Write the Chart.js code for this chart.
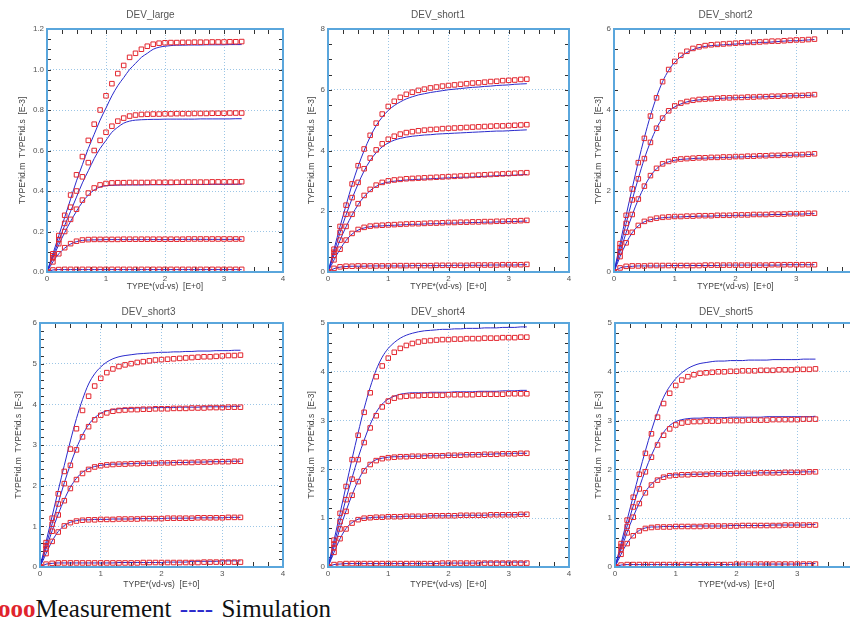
<!DOCTYPE html>
<html>
<head>
<meta charset="utf-8">
<script src="https://cdn.jsdelivr.net/npm/chart.js@4.4.1/dist/chart.umd.min.js"></script>
<style>
  html, body { margin: 0; padding: 0; background: #fff; }
  body { width: 850px; height: 622px; overflow: hidden; position: relative; }
  canvas { position: absolute; }
  #legend { position: absolute; left: -2px; top: 596px; font-family: 'Liberation Serif', serif; font-size: 25px; line-height: 25px; white-space: nowrap; color: #111; }
  #legend .m { color: #e0242c; font-weight: bold; }
  #legend .s { color: #2a2acc; margin-left: 2px; margin-right: 2px; }
</style>
</head>
<body>
<div id="legend"><span class="m">ooo</span>Measurement <span class="s">----</span> Simulation</div>
<script>
// vd sweep (V), same for every curve
const vd = [0,0.1,0.2,0.3,0.4,0.5,0.6,0.7,0.8,0.9,1.0,1.1,1.2,1.3,1.4,1.5,1.6,1.7,1.8,1.9,2.0,2.1,2.2,2.3,2.4,2.5,2.6,2.7,2.8,2.9,3.0,3.1,3.2,3.3];

// ---- DEV_large  (id in E-3)
const large_m1 = [0,0.09,0.18,0.28,0.38,0.48,0.57,0.65,0.73,0.80,0.87,0.93,0.98,1.02,1.06,1.08,1.10,1.115,1.125,1.13,1.132,1.133,1.133,1.134,1.134,1.135,1.135,1.135,1.136,1.136,1.136,1.137,1.137,1.138];
const large_s1 = [0,0.09,0.18,0.27,0.36,0.45,0.53,0.61,0.68,0.75,0.81,0.87,0.92,0.96,1.00,1.03,1.06,1.08,1.10,1.11,1.115,1.118,1.12,1.12,1.121,1.121,1.121,1.122,1.122,1.122,1.122,1.123,1.123,1.123];
const large_m2 = [0,0.08,0.16,0.24,0.32,0.40,0.47,0.54,0.60,0.65,0.69,0.72,0.745,0.76,0.77,0.775,0.778,0.779,0.78,0.78,0.781,0.781,0.782,0.782,0.782,0.783,0.783,0.783,0.784,0.784,0.784,0.785,0.785,0.785];
const large_s2 = [0,0.08,0.155,0.23,0.30,0.37,0.44,0.50,0.56,0.61,0.65,0.69,0.715,0.735,0.745,0.75,0.752,0.753,0.754,0.754,0.755,0.755,0.755,0.755,0.755,0.755,0.756,0.756,0.756,0.756,0.756,0.756,0.757,0.757];
const large_m3 = [0,0.07,0.14,0.2,0.26,0.31,0.355,0.39,0.415,0.43,0.437,0.44,0.441,0.441,0.442,0.442,0.442,0.442,0.443,0.443,0.443,0.443,0.443,0.444,0.444,0.444,0.444,0.444,0.445,0.445,0.445,0.445,0.445,0.446];
const large_s3 = [0,0.07,0.135,0.195,0.25,0.3,0.345,0.38,0.405,0.42,0.426,0.428,0.429,0.43,0.43,0.43,0.43,0.431,0.431,0.431,0.431,0.431,0.432,0.432,0.432,0.432,0.432,0.432,0.433,0.433,0.433,0.433,0.433,0.434];
const large_m4 = [0,0.05,0.09,0.12,0.14,0.152,0.158,0.16,0.161,0.161,0.161,0.161,0.161,0.162,0.162,0.162,0.162,0.162,0.162,0.162,0.162,0.162,0.162,0.162,0.163,0.163,0.163,0.163,0.163,0.163,0.163,0.163,0.163,0.163];
const large_s4 = [0,0.05,0.09,0.118,0.138,0.15,0.156,0.158,0.159,0.159,0.16,0.16,0.16,0.16,0.16,0.16,0.16,0.16,0.16,0.16,0.16,0.16,0.16,0.161,0.161,0.161,0.161,0.161,0.161,0.161,0.161,0.161,0.161,0.161];
const large_m5 = [0,0.01,0.012,0.013,0.013,0.013,0.013,0.013,0.013,0.013,0.013,0.013,0.013,0.013,0.013,0.013,0.013,0.013,0.013,0.013,0.013,0.013,0.013,0.013,0.013,0.013,0.013,0.013,0.013,0.013,0.013,0.013,0.013,0.013];
const large_s5 = [0,0.01,0.012,0.012,0.012,0.012,0.012,0.012,0.012,0.012,0.012,0.012,0.012,0.012,0.012,0.012,0.012,0.012,0.012,0.012,0.012,0.012,0.012,0.012,0.012,0.012,0.012,0.012,0.012,0.012,0.012,0.012,0.012,0.012];

// ---- DEV_short1
const short1_m1 = [0,0.75,1.5,2.2,2.9,3.5,4.05,4.5,4.9,5.2,5.45,5.62,5.75,5.85,5.92,5.98,6.02,6.06,6.09,6.12,6.14,6.16,6.18,6.2,6.22,6.23,6.25,6.27,6.28,6.3,6.31,6.32,6.34,6.35];
const short1_s1 = [0,0.75,1.5,2.2,2.88,3.48,4.0,4.45,4.82,5.1,5.32,5.48,5.6,5.7,5.77,5.83,5.87,5.91,5.94,5.97,6.0,6.02,6.04,6.06,6.08,6.09,6.11,6.12,6.14,6.15,6.16,6.18,6.19,6.2];
const short1_m2 = [0,0.65,1.3,1.9,2.45,2.95,3.4,3.75,4.02,4.22,4.37,4.47,4.54,4.59,4.62,4.65,4.67,4.69,4.7,4.72,4.73,4.74,4.75,4.76,4.77,4.78,4.79,4.8,4.81,4.81,4.82,4.83,4.84,4.85];
const short1_s2 = [0,0.65,1.3,1.88,2.42,2.9,3.33,3.67,3.93,4.12,4.25,4.34,4.4,4.44,4.47,4.49,4.51,4.52,4.54,4.55,4.56,4.57,4.58,4.59,4.6,4.61,4.62,4.63,4.64,4.64,4.65,4.66,4.67,4.68];
const short1_m3 = [0,0.55,1.05,1.5,1.9,2.25,2.52,2.72,2.86,2.95,3.0,3.03,3.05,3.07,3.08,3.09,3.1,3.11,3.12,3.13,3.14,3.15,3.16,3.17,3.18,3.19,3.2,3.21,3.22,3.23,3.24,3.25,3.26,3.27];
const short1_s3 = [0,0.55,1.05,1.49,1.88,2.22,2.48,2.68,2.82,2.91,2.96,2.99,3.01,3.03,3.04,3.05,3.06,3.07,3.08,3.09,3.1,3.11,3.12,3.12,3.13,3.14,3.15,3.16,3.17,3.18,3.18,3.19,3.2,3.21];
const short1_m4 = [0,0.4,0.75,1.05,1.27,1.4,1.47,1.51,1.53,1.54,1.55,1.56,1.57,1.58,1.59,1.59,1.6,1.61,1.61,1.62,1.63,1.63,1.64,1.64,1.65,1.65,1.66,1.66,1.67,1.67,1.68,1.68,1.69,1.7];
const short1_s4 = [0,0.4,0.75,1.04,1.25,1.38,1.45,1.49,1.51,1.52,1.53,1.54,1.55,1.56,1.57,1.57,1.58,1.59,1.59,1.6,1.61,1.61,1.62,1.62,1.63,1.63,1.64,1.64,1.65,1.65,1.66,1.66,1.67,1.68];
const short1_m5 = [0,0.12,0.17,0.19,0.19,0.2,0.2,0.2,0.2,0.2,0.2,0.21,0.21,0.21,0.21,0.21,0.21,0.21,0.22,0.22,0.22,0.22,0.22,0.22,0.23,0.23,0.23,0.23,0.23,0.24,0.24,0.24,0.24,0.25];
const short1_s5 = [0,0.11,0.16,0.18,0.19,0.19,0.19,0.2,0.2,0.2,0.2,0.2,0.2,0.2,0.21,0.21,0.21,0.21,0.21,0.21,0.21,0.22,0.22,0.22,0.22,0.22,0.22,0.23,0.23,0.23,0.23,0.23,0.24,0.24];

// ---- DEV_short2
const short2_m1 = [0,0.7,1.4,2.05,2.7,3.3,3.85,4.3,4.7,5.0,5.2,5.35,5.45,5.52,5.56,5.59,5.61,5.62,5.63,5.64,5.65,5.66,5.67,5.67,5.68,5.69,5.7,5.7,5.71,5.72,5.73,5.73,5.74,5.75];
const short2_s1 = [0,0.7,1.4,2.07,2.72,3.32,3.86,4.32,4.7,4.98,5.18,5.32,5.42,5.49,5.54,5.57,5.59,5.6,5.61,5.62,5.63,5.64,5.65,5.66,5.67,5.67,5.68,5.69,5.7,5.71,5.71,5.72,5.73,5.74];
const short2_m2 = [0,0.6,1.2,1.78,2.3,2.8,3.2,3.55,3.8,3.98,4.1,4.17,4.21,4.24,4.26,4.27,4.28,4.29,4.3,4.3,4.31,4.31,4.32,4.32,4.33,4.33,4.34,4.34,4.35,4.35,4.36,4.36,4.37,4.38];
const short2_s2 = [0,0.6,1.2,1.78,2.31,2.8,3.21,3.55,3.8,3.97,4.08,4.15,4.2,4.23,4.25,4.26,4.27,4.28,4.29,4.3,4.3,4.31,4.31,4.32,4.32,4.33,4.33,4.34,4.34,4.35,4.35,4.36,4.36,4.37];
const short2_m3 = [0,0.5,0.98,1.42,1.8,2.12,2.38,2.56,2.67,2.73,2.77,2.79,2.8,2.81,2.82,2.82,2.83,2.83,2.84,2.84,2.85,2.85,2.86,2.86,2.87,2.87,2.88,2.88,2.89,2.89,2.9,2.9,2.91,2.92];
const short2_s3 = [0,0.5,0.97,1.41,1.79,2.11,2.37,2.55,2.66,2.72,2.76,2.78,2.79,2.8,2.81,2.81,2.82,2.82,2.83,2.83,2.84,2.84,2.85,2.85,2.86,2.86,2.87,2.87,2.88,2.88,2.89,2.89,2.9,2.91];
const short2_m4 = [0,0.38,0.72,0.98,1.15,1.25,1.3,1.33,1.35,1.36,1.37,1.37,1.38,1.38,1.39,1.39,1.39,1.4,1.4,1.4,1.41,1.41,1.41,1.42,1.42,1.42,1.43,1.43,1.43,1.44,1.44,1.44,1.45,1.45];
const short2_s4 = [0,0.38,0.71,0.97,1.14,1.24,1.29,1.32,1.34,1.35,1.36,1.36,1.37,1.37,1.38,1.38,1.38,1.39,1.39,1.39,1.4,1.4,1.4,1.41,1.41,1.41,1.42,1.42,1.42,1.43,1.43,1.43,1.44,1.44];
const short2_m5 = [0,0.1,0.14,0.15,0.15,0.15,0.16,0.16,0.16,0.16,0.16,0.16,0.16,0.16,0.16,0.17,0.17,0.17,0.17,0.17,0.17,0.17,0.17,0.17,0.17,0.17,0.18,0.18,0.18,0.18,0.18,0.18,0.18,0.18];
const short2_s5 = [0,0.1,0.13,0.14,0.15,0.15,0.15,0.15,0.15,0.16,0.16,0.16,0.16,0.16,0.16,0.16,0.16,0.16,0.17,0.17,0.17,0.17,0.17,0.17,0.17,0.17,0.17,0.17,0.18,0.18,0.18,0.18,0.18,0.18];

// ---- DEV_short3
const short3_m1 = [0,0.6,1.2,1.8,2.35,2.9,3.4,3.85,4.2,4.45,4.64,4.78,4.87,4.93,4.97,5.0,5.03,5.05,5.07,5.09,5.1,5.11,5.12,5.13,5.14,5.15,5.16,5.17,5.17,5.18,5.19,5.2,5.2,5.21];
const short3_s1 = [0,0.62,1.25,1.88,2.5,3.1,3.65,4.12,4.5,4.75,4.92,5.04,5.12,5.17,5.2,5.22,5.24,5.25,5.26,5.27,5.28,5.28,5.29,5.29,5.3,5.3,5.31,5.31,5.31,5.32,5.32,5.32,5.33,5.33];
const short3_m2 = [0,0.52,1.05,1.55,2.05,2.5,2.88,3.2,3.45,3.62,3.73,3.79,3.83,3.85,3.86,3.87,3.87,3.88,3.88,3.89,3.89,3.89,3.9,3.9,3.9,3.91,3.91,3.91,3.92,3.92,3.92,3.93,3.93,3.93];
const short3_s2 = [0,0.53,1.06,1.57,2.07,2.52,2.92,3.25,3.5,3.67,3.78,3.84,3.87,3.89,3.9,3.9,3.91,3.91,3.91,3.92,3.92,3.92,3.92,3.93,3.93,3.93,3.93,3.94,3.94,3.94,3.94,3.94,3.95,3.95];
const short3_m3 = [0,0.45,0.88,1.28,1.63,1.93,2.15,2.3,2.4,2.46,2.49,2.51,2.52,2.53,2.53,2.54,2.54,2.55,2.55,2.55,2.56,2.56,2.56,2.57,2.57,2.57,2.58,2.58,2.58,2.59,2.59,2.59,2.6,2.6];
const short3_s3 = [0,0.45,0.89,1.3,1.66,1.96,2.18,2.33,2.42,2.47,2.5,2.52,2.53,2.53,2.54,2.54,2.55,2.55,2.55,2.56,2.56,2.56,2.57,2.57,2.57,2.58,2.58,2.58,2.59,2.59,2.59,2.6,2.6,2.6];
const short3_m4 = [0,0.33,0.63,0.86,1.01,1.09,1.13,1.15,1.16,1.16,1.17,1.17,1.17,1.18,1.18,1.18,1.18,1.19,1.19,1.19,1.19,1.2,1.2,1.2,1.2,1.2,1.21,1.21,1.21,1.21,1.21,1.22,1.22,1.22];
const short3_s4 = [0,0.33,0.64,0.87,1.02,1.1,1.14,1.16,1.16,1.17,1.17,1.17,1.18,1.18,1.18,1.18,1.19,1.19,1.19,1.19,1.19,1.2,1.2,1.2,1.2,1.2,1.21,1.21,1.21,1.21,1.21,1.22,1.22,1.22];
const short3_m5 = [0,0.07,0.09,0.1,0.1,0.1,0.1,0.1,0.1,0.1,0.1,0.1,0.1,0.1,0.1,0.1,0.1,0.11,0.11,0.11,0.11,0.11,0.11,0.11,0.11,0.11,0.11,0.12,0.12,0.12,0.12,0.12,0.12,0.12];
const short3_s5 = [0,0.07,0.09,0.1,0.1,0.1,0.1,0.1,0.1,0.1,0.1,0.1,0.1,0.11,0.11,0.11,0.11,0.11,0.11,0.11,0.11,0.12,0.12,0.12,0.12,0.14,0.14,0.14,0.14,0.14,0.15,0.15,0.15,0.15];

// ---- DEV_short4
const short4_m1 = [0,0.55,1.1,1.65,2.2,2.7,3.17,3.57,3.9,4.12,4.28,4.4,4.48,4.54,4.58,4.61,4.63,4.64,4.65,4.66,4.66,4.67,4.67,4.68,4.68,4.68,4.69,4.69,4.69,4.7,4.7,4.7,4.71,4.71];
const short4_s1 = [0,0.55,1.1,1.66,2.22,2.75,3.25,3.68,4.04,4.3,4.48,4.6,4.69,4.75,4.79,4.82,4.84,4.85,4.86,4.87,4.87,4.88,4.88,4.89,4.89,4.89,4.9,4.9,4.9,4.91,4.91,4.91,4.92,4.92];
const short4_m2 = [0,0.47,0.93,1.38,1.8,2.2,2.55,2.85,3.1,3.28,3.4,3.46,3.49,3.5,3.51,3.51,3.52,3.52,3.52,3.52,3.53,3.53,3.53,3.53,3.53,3.54,3.54,3.54,3.54,3.54,3.55,3.55,3.55,3.55];
const short4_s2 = [0,0.47,0.94,1.4,1.83,2.24,2.6,2.92,3.17,3.34,3.44,3.5,3.54,3.56,3.57,3.57,3.57,3.58,3.58,3.58,3.58,3.59,3.59,3.59,3.59,3.6,3.6,3.6,3.6,3.61,3.61,3.61,3.62,3.62];
const short4_m3 = [0,0.4,0.78,1.14,1.47,1.75,1.97,2.1,2.18,2.22,2.24,2.25,2.26,2.26,2.27,2.27,2.27,2.28,2.28,2.28,2.29,2.29,2.29,2.3,2.3,2.3,2.31,2.31,2.31,2.32,2.32,2.32,2.33,2.33];
const short4_s3 = [0,0.4,0.79,1.15,1.48,1.77,1.99,2.12,2.2,2.23,2.25,2.26,2.26,2.27,2.27,2.27,2.28,2.28,2.28,2.29,2.29,2.29,2.3,2.3,2.3,2.31,2.31,2.31,2.32,2.32,2.32,2.33,2.33,2.33];
const short4_m4 = [0,0.3,0.58,0.78,0.9,0.97,1.0,1.01,1.02,1.02,1.03,1.03,1.03,1.04,1.04,1.04,1.04,1.05,1.05,1.05,1.05,1.05,1.06,1.06,1.06,1.06,1.06,1.07,1.07,1.07,1.07,1.07,1.08,1.08];
const short4_s4 = [0,0.3,0.58,0.79,0.91,0.98,1.0,1.01,1.02,1.02,1.03,1.03,1.03,1.04,1.04,1.04,1.04,1.05,1.05,1.05,1.05,1.05,1.06,1.06,1.06,1.06,1.06,1.07,1.07,1.07,1.07,1.07,1.08,1.08];
const short4_m5 = [0,0.05,0.06,0.07,0.07,0.07,0.07,0.07,0.07,0.07,0.07,0.07,0.07,0.07,0.07,0.07,0.07,0.07,0.07,0.08,0.08,0.08,0.08,0.08,0.08,0.08,0.08,0.08,0.08,0.08,0.08,0.08,0.08,0.08];
const short4_s5 = [0,0.05,0.06,0.07,0.07,0.07,0.07,0.07,0.07,0.07,0.07,0.07,0.07,0.07,0.07,0.07,0.07,0.07,0.07,0.08,0.08,0.08,0.08,0.08,0.08,0.08,0.1,0.1,0.1,0.1,0.1,0.1,0.1,0.1];

// ---- DEV_short5
const short5_m1 = [0,0.48,0.96,1.43,1.9,2.33,2.73,3.07,3.35,3.56,3.72,3.83,3.9,3.94,3.97,3.98,3.99,4.0,4.0,4.01,4.01,4.02,4.02,4.02,4.03,4.03,4.03,4.04,4.04,4.04,4.05,4.05,4.05,4.06];
const short5_s1 = [0,0.48,0.97,1.45,1.93,2.38,2.8,3.17,3.48,3.7,3.86,3.98,4.07,4.13,4.17,4.19,4.21,4.22,4.22,4.23,4.23,4.23,4.24,4.24,4.24,4.24,4.25,4.25,4.25,4.25,4.25,4.26,4.26,4.26];
const short5_m2 = [0,0.42,0.83,1.23,1.6,1.95,2.25,2.5,2.7,2.83,2.91,2.95,2.97,2.98,2.98,2.99,2.99,2.99,3.0,3.0,3.0,3.0,3.01,3.01,3.01,3.01,3.02,3.02,3.02,3.02,3.02,3.03,3.03,3.03];
const short5_s2 = [0,0.42,0.84,1.25,1.63,1.98,2.29,2.55,2.76,2.9,2.98,3.02,3.04,3.05,3.05,3.06,3.06,3.06,3.06,3.07,3.07,3.07,3.07,3.07,3.07,3.08,3.08,3.08,3.08,3.08,3.08,3.08,3.08,3.09];
const short5_m3 = [0,0.36,0.7,1.02,1.3,1.52,1.68,1.78,1.84,1.87,1.88,1.89,1.89,1.9,1.9,1.9,1.91,1.91,1.91,1.91,1.92,1.92,1.92,1.92,1.93,1.93,1.93,1.93,1.94,1.94,1.94,1.94,1.95,1.95];
const short5_s3 = [0,0.36,0.71,1.03,1.31,1.54,1.7,1.8,1.85,1.88,1.89,1.89,1.9,1.9,1.9,1.91,1.91,1.91,1.91,1.92,1.92,1.92,1.92,1.93,1.93,1.93,1.93,1.94,1.94,1.94,1.94,1.95,1.95,1.95];
const short5_m4 = [0,0.26,0.48,0.64,0.74,0.79,0.81,0.82,0.82,0.82,0.83,0.83,0.83,0.83,0.83,0.84,0.84,0.84,0.84,0.84,0.84,0.85,0.85,0.85,0.85,0.85,0.85,0.85,0.86,0.86,0.86,0.86,0.86,0.86];
const short5_s4 = [0,0.26,0.49,0.65,0.75,0.8,0.82,0.82,0.83,0.83,0.83,0.83,0.83,0.84,0.84,0.84,0.84,0.84,0.84,0.85,0.85,0.85,0.85,0.85,0.85,0.85,0.86,0.86,0.86,0.86,0.86,0.86,0.87,0.87];
const short5_m5 = [0,0.04,0.05,0.05,0.05,0.05,0.05,0.05,0.05,0.05,0.05,0.05,0.05,0.05,0.05,0.05,0.05,0.05,0.05,0.05,0.06,0.06,0.06,0.06,0.06,0.06,0.06,0.06,0.06,0.06,0.06,0.06,0.06,0.06];
const short5_s5 = [0,0.04,0.05,0.05,0.05,0.05,0.05,0.05,0.05,0.05,0.05,0.05,0.05,0.05,0.05,0.05,0.05,0.05,0.05,0.05,0.06,0.06,0.06,0.06,0.06,0.06,0.06,0.06,0.06,0.06,0.06,0.07,0.07,0.07];

// panel setup: plot = [left, top, right, bottom] in page px
const panels = [
  { title: 'DEV_large',  meas: [large_m1, large_m2, large_m3, large_m4, large_m5],   sim: [large_s1, large_s2, large_s3, large_s4, large_s5],
    ymax: 1.2, minor: 0.05, major: 0.2, dec: 1, plot: [47, 29, 283, 272], yTitleX: 23, titleY: 15, xH: 20 },
  { title: 'DEV_short1', meas: [short1_m1, short1_m2, short1_m3, short1_m4, short1_m5], sim: [short1_s1, short1_s2, short1_s3, short1_s4, short1_s5],
    ymax: 8, minor: 0.5, major: 2, dec: 0, plot: [328, 29, 569, 272], yTitleX: 312, titleY: 15, xH: 20 },
  { title: 'DEV_short2', meas: [short2_m1, short2_m2, short2_m3, short2_m4, short2_m5], sim: [short2_s1, short2_s2, short2_s3, short2_s4, short2_s5],
    ymax: 6, minor: 0.5, major: 2, dec: 0, plot: [614, 29, 857, 272], yTitleX: 599, titleY: 15, xH: 20 },
  { title: 'DEV_short3', meas: [short3_m1, short3_m2, short3_m3, short3_m4, short3_m5], sim: [short3_s1, short3_s2, short3_s3, short3_s4, short3_s5],
    ymax: 6, minor: 0.2, major: 1, dec: 0, plot: [40, 323, 283, 567], yTitleX: 19, titleY: 312, xH: 23 },
  { title: 'DEV_short4', meas: [short4_m1, short4_m2, short4_m3, short4_m4, short4_m5], sim: [short4_s1, short4_s2, short4_s3, short4_s4, short4_s5],
    ymax: 5, minor: 0.2, major: 1, dec: 0, plot: [328, 323, 569, 567], yTitleX: 312, titleY: 312, xH: 23 },
  { title: 'DEV_short5', meas: [short5_m1, short5_m2, short5_m3, short5_m4, short5_m5], sim: [short5_s1, short5_s2, short5_s3, short5_s4, short5_s5],
    ymax: 5, minor: 0.2, major: 1, dec: 0, plot: [615, 323, 858, 567], yTitleX: 599, titleY: 312, xH: 23 },
];

const RED = '#e3262e';
const BLUE = '#2a2acc';
const GRID = '#9cc6e6';
const FRAME = '#5aa6dc';

const isMult = (v, step) => Math.abs(v / step - Math.round(v / step)) < 1e-6;

// inward tick marks + light blue frame, like the original tool
const frameTicks = {
  id: 'frameTicks',
  beforeDatasetsDraw(chart) {
    const { ctx, chartArea: a, scales: { x, y } } = chart;
    ctx.save();
    ctx.strokeStyle = '#333';
    ctx.lineWidth = 1;
    ctx.beginPath();
    x.ticks.forEach(t => {
      const px = Math.round(x.getPixelForValue(t.value)) + 0.5;
      ctx.moveTo(px, a.top); ctx.lineTo(px, a.top + 5);
      ctx.moveTo(px, a.bottom); ctx.lineTo(px, a.bottom - 5);
    });
    y.ticks.forEach(t => {
      const py = Math.round(y.getPixelForValue(t.value)) + 0.5;
      ctx.moveTo(a.left, py); ctx.lineTo(a.left + 4, py);
      ctx.moveTo(a.right, py); ctx.lineTo(a.right - 4, py);
    });
    ctx.stroke();
    ctx.restore();
  },
  afterDatasetsDraw(chart) {
    const { ctx, chartArea: a } = chart;
    ctx.save();
    ctx.strokeStyle = FRAME;
    ctx.lineWidth = 2;
    ctx.strokeRect(a.left, a.top, a.right - a.left, a.bottom - a.top);
    ctx.restore();
  }
};

panels.forEach(p => {
  const [pl, pt, pr, pb] = p.plot;
  const yW = p.yTitleX - 5 > 0 ? pl - (p.yTitleX - 5) : pl;
  const left = pl - yW;
  const top = p.titleY - 8;
  const titleH = pt - top;
  const W = yW + (pr - pl) + 8;
  const H = titleH + (pb - pt) + p.xH;

  const cv = document.createElement('canvas');
  cv.width = W; cv.height = H;
  cv.style.left = left + 'px'; cv.style.top = top + 'px';
  cv.style.width = W + 'px'; cv.style.height = H + 'px';
  document.body.appendChild(cv);

  const datasets = [];
  p.meas.forEach(m => datasets.push({
    data: vd.map((v, i) => ({ x: v, y: m[i] })),
    showLine: false, pointStyle: 'rect', pointRadius: 3.2,
    pointBorderColor: RED, pointBackgroundColor: 'rgba(0,0,0,0)', pointBorderWidth: 1
  }));
  p.sim.forEach(s => datasets.push({
    data: vd.map((v, i) => ({ x: v, y: s[i] })),
    showLine: true, borderColor: BLUE, borderWidth: 1, pointRadius: 0,
    cubicInterpolationMode: 'monotone'
  }));

  new Chart(cv.getContext('2d'), {
    type: 'scatter',
    data: { datasets },
    options: {
      responsive: false, animation: false, devicePixelRatio: 1,
      layout: { padding: { left: 0, right: 8, top: 0, bottom: 0 } },
      plugins: {
        legend: { display: false }, tooltip: { enabled: false },
        title: { display: true, text: p.title, color: '#555',
          font: { family: 'Liberation Sans', size: 10, weight: 'normal' },
          padding: { top: 2, bottom: titleH - 14 } }
      },
      scales: {
        x: {
          type: 'linear', min: 0, max: 4,
          afterFit: s => { s.height = p.xH; },
          border: { display: false, dash: [1, 2] },
          grid: { drawTicks: false, lineWidth: 1,
            color: c => (c.tick && isMult(c.tick.value, 1) && c.tick.value > 0 && c.tick.value < 4) ? GRID : 'rgba(0,0,0,0)' },
          ticks: { stepSize: 0.25, autoSkip: false, maxRotation: 0, padding: 2, color: '#555',
            font: { family: 'Liberation Sans', size: 8 },
            callback: v => isMult(v, 1) ? String(Math.round(v)) : '' },
          title: { display: true, text: 'TYPE*(vd-vs)  [E+0]', color: '#444',
            font: { family: 'Liberation Sans', size: 8.5 }, padding: { top: 0, bottom: 0 } }
        },
        y: {
          type: 'linear', min: 0, max: p.ymax,
          afterFit: s => { s.width = yW; },
          border: { display: false, dash: [1, 2] },
          grid: { drawTicks: false, lineWidth: 1,
            color: c => (c.tick && isMult(c.tick.value, p.major) && c.tick.value > 0 && c.tick.value < p.ymax - 1e-6) ? GRID : 'rgba(0,0,0,0)' },
          ticks: { stepSize: p.minor, autoSkip: false, padding: 3, color: '#555',
            font: { family: 'Liberation Sans', size: 8 },
            callback: v => isMult(v, p.major) ? v.toFixed(p.dec) : '' },
          title: { display: true, text: 'TYPE*id.m  TYPE*id.s  [E-3]', color: '#444',
            font: { family: 'Liberation Sans', size: 8.5 }, padding: { top: 0, bottom: 0 } }
        }
      }
    },
    plugins: [frameTicks]
  });
});
</script>
</body>
</html>
